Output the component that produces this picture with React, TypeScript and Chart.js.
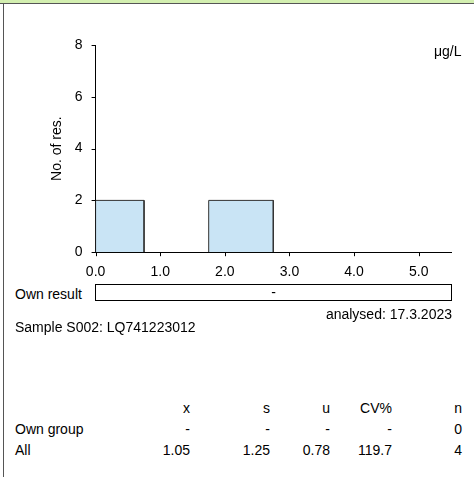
import { useEffect, useRef } from "react";
import { Chart, registerables } from "chart.js";

Chart.register(...registerables);

const binStart = [0, 1.75];
const binEnd = [0.75, 2.75];
const binCount = [2, 2];
const yTicks = [0, 2, 4, 6, 8];
const xTicks = [0, 1, 2, 3, 4, 5];

const statHeads = ["x", "s", "u", "CV%", "n"];
const ownGroup = ["-", "-", "-", "-", "0"];
const allGroup = ["1.05", "1.25", "0.78", "119.7", "4"];
const colRight = [190, 270, 330, 392, 462];

const font = "'Liberation Sans', Arial, sans-serif";

const App = () => {
  const chartRef = useRef<HTMLCanvasElement | null>(null);
  const chartInstanceRef = useRef<Chart | null>(null);

  useEffect(() => {
    if (!chartRef.current) return;
    const ctx = chartRef.current.getContext("2d");
    if (!ctx) return;
    if (chartInstanceRef.current) chartInstanceRef.current.destroy();

    const datasets = binCount.map((c, i) => ({
      data: [
        { x: binStart[i], y: 0 },
        { x: binStart[i], y: c },
        { x: binEnd[i], y: c },
        { x: binEnd[i], y: 0 },
      ],
      borderColor: "#333",
      borderWidth: 1,
      backgroundColor: "#c9e4f5",
      fill: "origin",
      pointRadius: 0,
      tension: 0,
    }));

    chartInstanceRef.current = new Chart(ctx, {
      type: "line",
      data: { datasets },
      options: {
        animation: false,
        responsive: false,
        maintainAspectRatio: false,
        layout: { padding: { top: 45, right: 23, left: 45, bottom: 0 } },
        plugins: { legend: { display: false }, tooltip: { enabled: false } },
        scales: {
          x: {
            type: "linear",
            min: 0,
            max: 5.5,
            afterBuildTicks: (s: any) => {
              s.ticks = xTicks.map((v) => ({ value: v }));
            },
            grid: { display: false },
            border: { color: "#000", width: 1 },
            ticks: {
              color: "#000",
              font: { family: font, size: 14 },
              padding: 4,
              callback: (v: any) => Number(v).toFixed(1),
            },
          },
          y: {
            min: 0,
            max: 8,
            afterBuildTicks: (s: any) => {
              s.ticks = yTicks.map((v) => ({ value: v }));
            },
            grid: { display: false },
            border: { color: "#000", width: 1 },
            title: {
              display: true,
              text: "No. of res.",
              color: "#000",
              font: { family: font, size: 14 },
              padding: 4,
            },
            ticks: { color: "#000", font: { family: font, size: 14 }, padding: 5 },
          },
        },
      },
      plugins: [
        {
          id: "tickMarks",
          afterDraw: (chart: any) => {
            const c = chart.ctx;
            const xs = chart.scales.x;
            const ys = chart.scales.y;
            c.save();
            c.strokeStyle = "#000";
            c.lineWidth = 1;
            c.beginPath();
            xTicks.forEach((v) => {
              const px = Math.round(xs.getPixelForValue(v)) + 0.5;
              c.moveTo(px, ys.bottom);
              c.lineTo(px, ys.bottom + 4);
            });
            yTicks.forEach((v) => {
              const py = Math.round(ys.getPixelForValue(v)) + 0.5;
              c.moveTo(xs.left - 4, py);
              c.lineTo(xs.left, py);
            });
            c.stroke();
            c.restore();
          },
        },
      ],
    });

    return () => {
      if (chartInstanceRef.current) chartInstanceRef.current.destroy();
    };
  }, []);

  const abs = (x: number, y: number, extra: any = {}) => ({
    position: "absolute" as const,
    left: x,
    top: y,
    whiteSpace: "nowrap" as const,
    ...extra,
  });

  return (
    <div
      style={{
        position: "fixed",
        left: 0,
        top: 0,
        width: 474,
        height: 477,
        background: "#fff",
        fontFamily: font,
        fontSize: 14,
        color: "#000",
        overflow: "hidden",
      }}
    >
      <div style={abs(0, 0, { width: 474, height: 3, background: "#d3efb0", borderBottom: "1px solid #555" })} />
      <div style={abs(3, 3, { width: 1, height: 474, background: "#555" })} />
      <canvas ref={chartRef} width={474} height={285} style={abs(0, 0, { width: 474, height: 285 })} />
      <div style={abs(434, 43)}>μg/L</div>
      <div style={abs(15, 286)}>Own result</div>
      <div
        style={abs(95, 284, {
          width: 355,
          height: 15,
          border: "1px solid #000",
          textAlign: "center",
          lineHeight: "15px",
        })}
      >
        -
      </div>
      <div style={abs(0, 306, { width: 452, textAlign: "right" })}>analysed: 17.3.2023</div>
      <div style={abs(15, 319)}>Sample S002: LQ741223012</div>
      {[statHeads, ownGroup, allGroup].map((row, r) => (
        <div key={r}>
          {r === 1 && <div style={abs(15, 400 + r * 21)}>Own group</div>}
          {r === 2 && <div style={abs(15, 400 + r * 21)}>All</div>}
          {row.map((v, i) => (
            <div key={i} style={abs(colRight[i] - 80, 400 + r * 21, { width: 80, textAlign: "right" })}>
              {v}
            </div>
          ))}
        </div>
      ))}
    </div>
  );
};

export default App;
